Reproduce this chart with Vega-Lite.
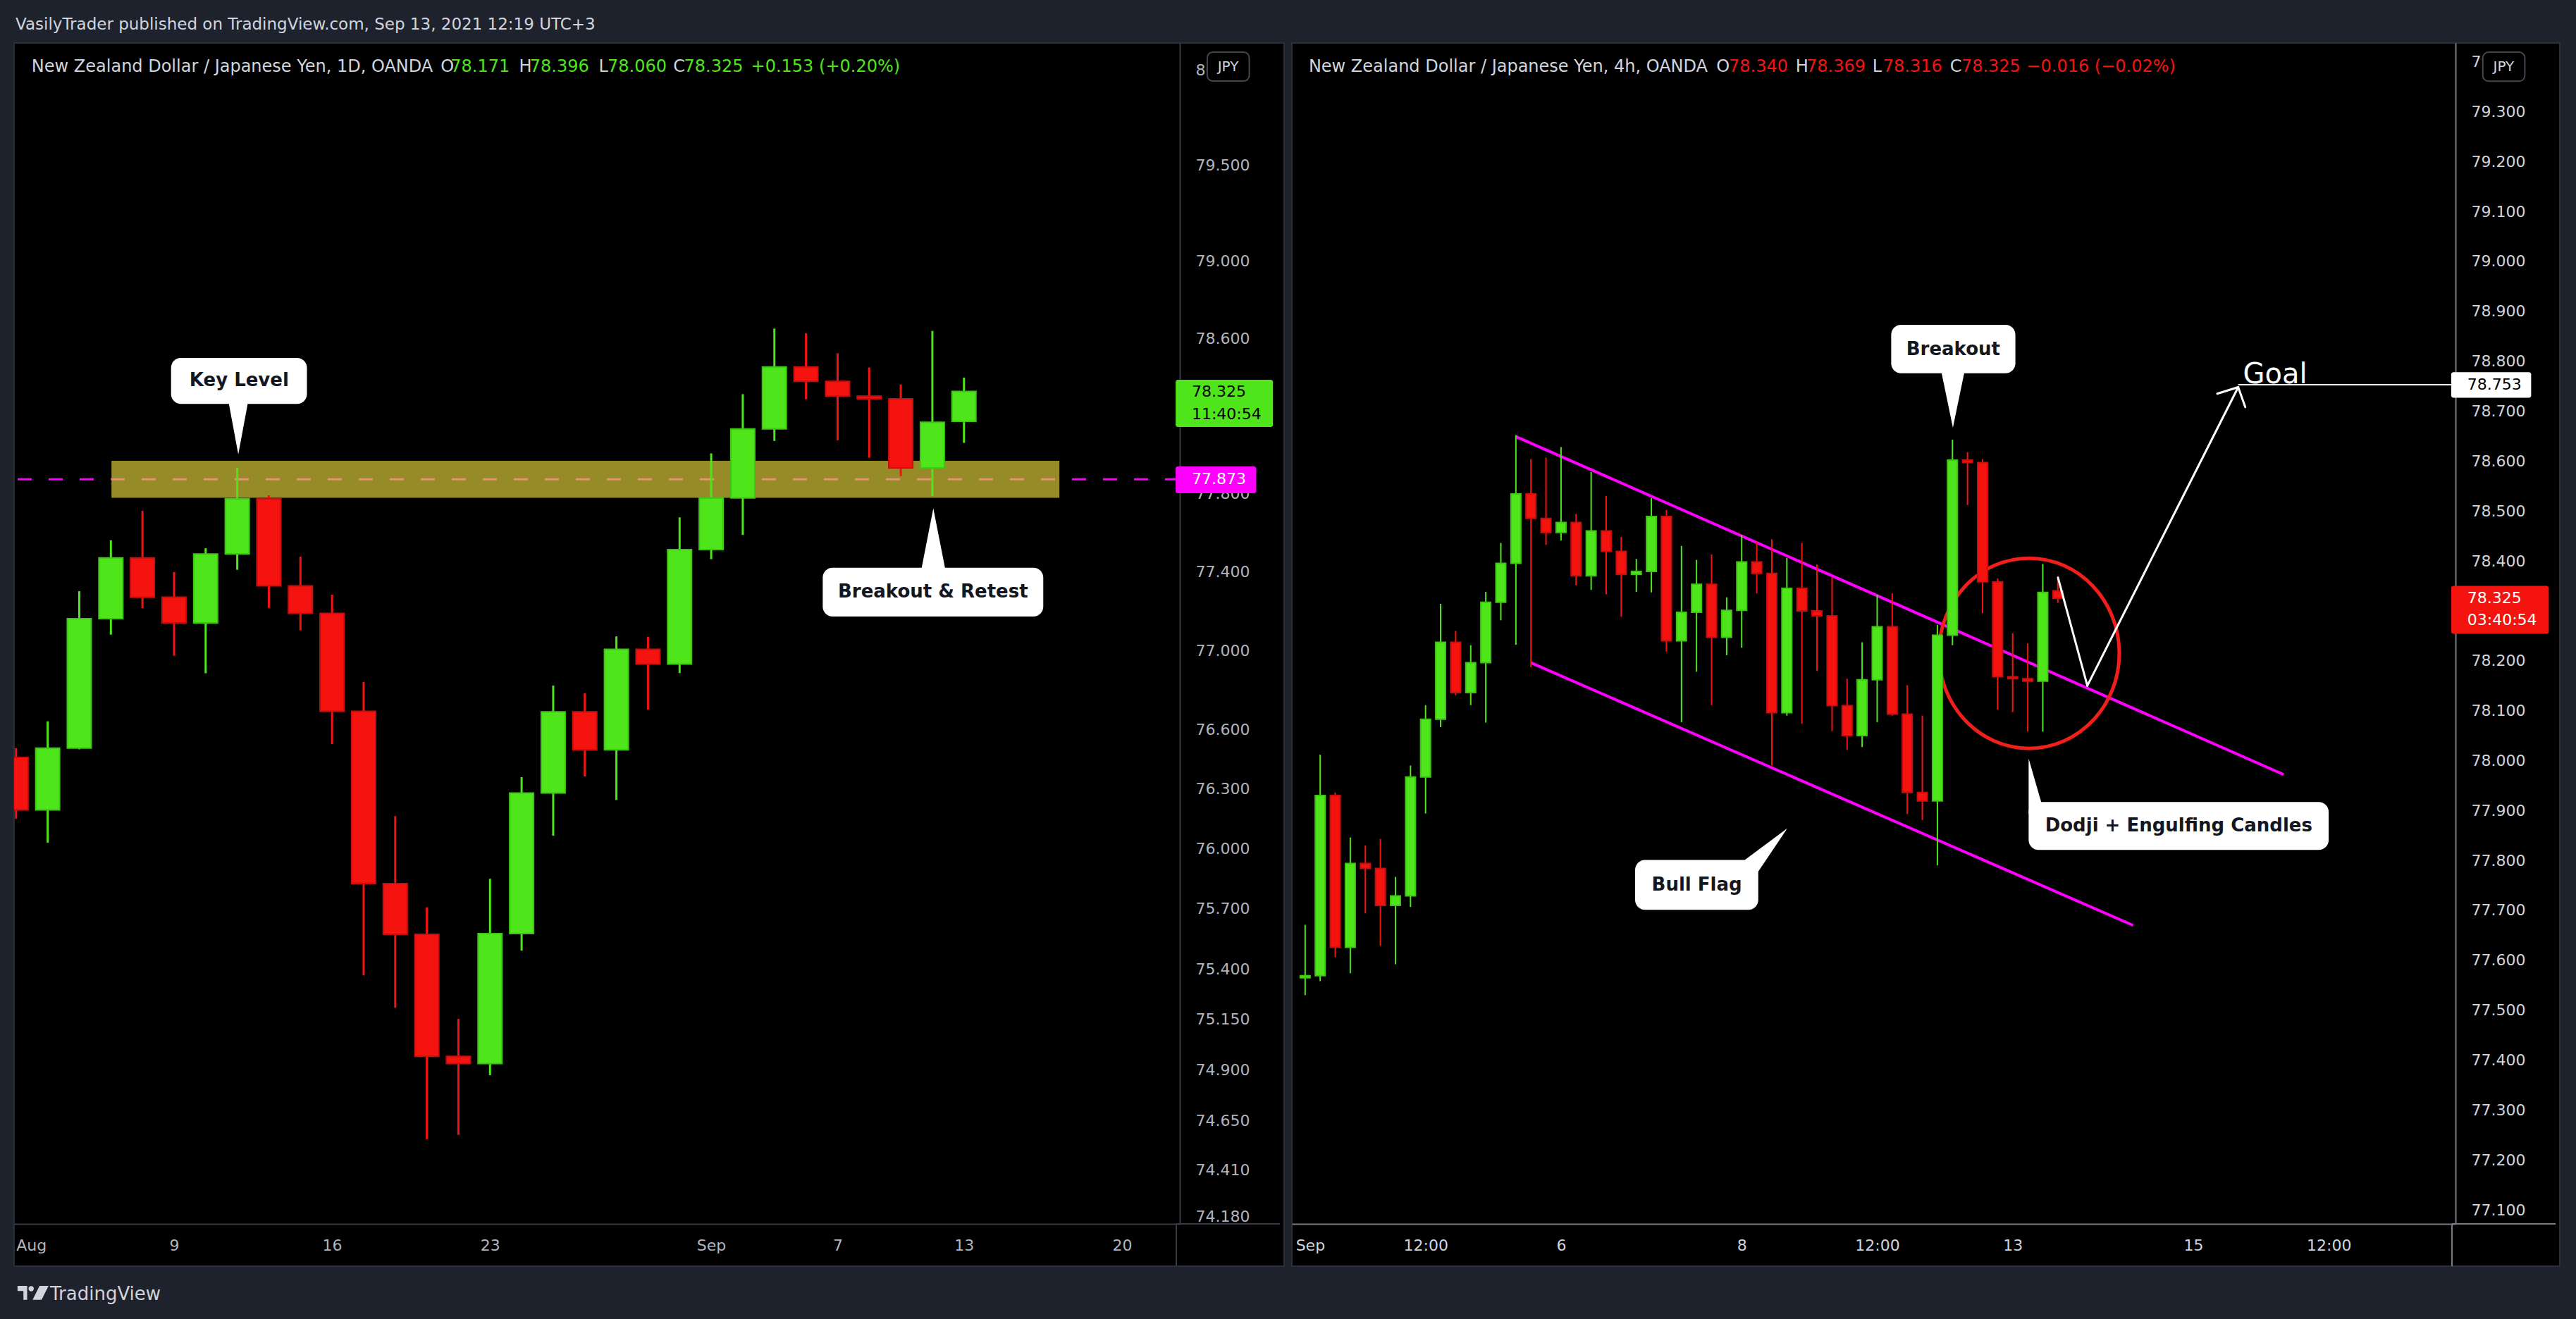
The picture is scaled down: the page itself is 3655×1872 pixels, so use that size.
{
"$schema": "https://vega.github.io/schema/vega-lite/v6.json",
"background": "#1e222d",
"padding": {"left": 19, "top": 24, "right": 22, "bottom": 24},
"autosize": {"type": "pad"},
"title": {"text": "VasilyTrader published on TradingView.com, Sep 13, 2021 12:19 UTC+3", "anchor": "start", "frame": "group", "font": "DejaVu Sans", "fontSize": 23, "fontWeight": "normal", "color": "#d1d4dc", "offset": 13, "dx": 2},
"spacing": 11,
"bounds": "flush",
"resolve": {"scale": {"color": "independent"}},
"config": {
  "view": {"fill": "#000000", "stroke": "#2a2e39", "strokeWidth": 2},
  "axis": {"grid": false, "ticks": false, "labelFont": "DejaVu Sans", "labelFontSize": 22, "labelOverlap": false, "labelBound": false},
  "text": {"font": "DejaVu Sans"},
  "title": {"font": "DejaVu Sans"}
},
"datasets": {
  "daily": [
    {"j":0,"t":"2021-08-02","o":76.459,"h":76.505,"l":76.151,"c":76.195},
    {"j":1,"t":"2021-08-03","o":76.195,"h":76.641,"l":76.031,"c":76.506},
    {"j":2,"t":"2021-08-04","o":76.506,"h":77.301,"l":76.500,"c":77.161},
    {"j":3,"t":"2021-08-05","o":77.161,"h":77.561,"l":77.080,"c":77.471},
    {"j":4,"t":"2021-08-06","o":77.471,"h":77.711,"l":77.214,"c":77.270},
    {"j":5,"t":"2021-08-09","o":77.271,"h":77.398,"l":76.973,"c":77.139},
    {"j":6,"t":"2021-08-10","o":77.139,"h":77.520,"l":76.884,"c":77.491},
    {"j":7,"t":"2021-08-11","o":77.491,"h":77.931,"l":77.410,"c":77.774},
    {"j":8,"t":"2021-08-12","o":77.774,"h":77.791,"l":77.216,"c":77.328},
    {"j":9,"t":"2021-08-13","o":77.328,"h":77.477,"l":77.102,"c":77.188},
    {"j":10,"t":"2021-08-16","o":77.188,"h":77.283,"l":76.526,"c":76.692},
    {"j":11,"t":"2021-08-17","o":76.692,"h":76.840,"l":75.369,"c":75.826},
    {"j":12,"t":"2021-08-18","o":75.826,"h":76.164,"l":75.208,"c":75.573},
    {"j":13,"t":"2021-08-19","o":75.573,"h":75.707,"l":74.560,"c":74.968},
    {"j":14,"t":"2021-08-20","o":74.968,"h":75.153,"l":74.581,"c":74.932},
    {"j":15,"t":"2021-08-23","o":74.932,"h":75.850,"l":74.875,"c":75.577},
    {"j":16,"t":"2021-08-24","o":75.577,"h":76.360,"l":75.492,"c":76.280},
    {"j":17,"t":"2021-08-25","o":76.280,"h":76.822,"l":76.066,"c":76.689},
    {"j":18,"t":"2021-08-26","o":76.689,"h":76.783,"l":76.363,"c":76.497},
    {"j":19,"t":"2021-08-27","o":76.497,"h":77.071,"l":76.245,"c":77.006},
    {"j":20,"t":"2021-08-30","o":77.006,"h":77.069,"l":76.701,"c":76.931},
    {"j":21,"t":"2021-08-31","o":76.931,"h":77.678,"l":76.885,"c":77.513},
    {"j":22,"t":"2021-09-01","o":77.513,"h":78.006,"l":77.464,"c":77.777},
    {"j":23,"t":"2021-09-02","o":77.777,"h":78.311,"l":77.588,"c":78.132},
    {"j":24,"t":"2021-09-03","o":78.132,"h":78.650,"l":78.070,"c":78.452},
    {"j":25,"t":"2021-09-06","o":78.452,"h":78.626,"l":78.285,"c":78.377},
    {"j":26,"t":"2021-09-07","o":78.377,"h":78.522,"l":78.073,"c":78.301},
    {"j":27,"t":"2021-09-08","o":78.301,"h":78.449,"l":77.984,"c":78.287},
    {"j":28,"t":"2021-09-09","o":78.287,"h":78.361,"l":77.889,"c":77.931},
    {"j":29,"t":"2021-09-10","o":77.931,"h":78.638,"l":77.787,"c":78.166},
    {"j":30,"t":"2021-09-13","o":78.171,"h":78.396,"l":78.060,"c":78.325}
  ],
  "h4": [
    {"i":1,"t":"2021-09-01 04:00","o":77.565,"h":77.671,"l":77.530,"c":77.569},
    {"i":2,"t":"2021-09-01 08:00","o":77.569,"h":78.012,"l":77.558,"c":77.930},
    {"i":3,"t":"2021-09-01 12:00","o":77.930,"h":77.936,"l":77.606,"c":77.626},
    {"i":4,"t":"2021-09-01 16:00","o":77.626,"h":77.846,"l":77.574,"c":77.794},
    {"i":5,"t":"2021-09-01 20:00","o":77.794,"h":77.830,"l":77.694,"c":77.784},
    {"i":6,"t":"2021-09-02 00:00","o":77.784,"h":77.843,"l":77.629,"c":77.710},
    {"i":7,"t":"2021-09-02 04:00","o":77.710,"h":77.767,"l":77.592,"c":77.729},
    {"i":8,"t":"2021-09-02 08:00","o":77.729,"h":77.990,"l":77.707,"c":77.967},
    {"i":9,"t":"2021-09-02 12:00","o":77.967,"h":78.111,"l":77.894,"c":78.083},
    {"i":10,"t":"2021-09-02 16:00","o":78.083,"h":78.314,"l":78.067,"c":78.237},
    {"i":11,"t":"2021-09-02 20:00","o":78.237,"h":78.260,"l":78.131,"c":78.136},
    {"i":12,"t":"2021-09-03 00:00","o":78.136,"h":78.231,"l":78.111,"c":78.196},
    {"i":13,"t":"2021-09-03 04:00","o":78.196,"h":78.338,"l":78.076,"c":78.317},
    {"i":14,"t":"2021-09-03 08:00","o":78.317,"h":78.436,"l":78.281,"c":78.395},
    {"i":15,"t":"2021-09-03 12:00","o":78.395,"h":78.652,"l":78.232,"c":78.534},
    {"i":16,"t":"2021-09-03 16:00","o":78.534,"h":78.604,"l":78.187,"c":78.485},
    {"i":17,"t":"2021-09-03 20:00","o":78.485,"h":78.607,"l":78.432,"c":78.457},
    {"i":18,"t":"2021-09-06 00:00","o":78.457,"h":78.628,"l":78.441,"c":78.477},
    {"i":19,"t":"2021-09-06 04:00","o":78.477,"h":78.494,"l":78.351,"c":78.370},
    {"i":20,"t":"2021-09-06 08:00","o":78.370,"h":78.578,"l":78.342,"c":78.460},
    {"i":21,"t":"2021-09-06 12:00","o":78.460,"h":78.530,"l":78.333,"c":78.419},
    {"i":22,"t":"2021-09-06 16:00","o":78.419,"h":78.448,"l":78.288,"c":78.373},
    {"i":23,"t":"2021-09-06 20:00","o":78.373,"h":78.404,"l":78.338,"c":78.379},
    {"i":24,"t":"2021-09-07 00:00","o":78.379,"h":78.526,"l":78.337,"c":78.489},
    {"i":25,"t":"2021-09-07 04:00","o":78.489,"h":78.502,"l":78.218,"c":78.240},
    {"i":26,"t":"2021-09-07 08:00","o":78.240,"h":78.430,"l":78.077,"c":78.297},
    {"i":27,"t":"2021-09-07 12:00","o":78.297,"h":78.402,"l":78.178,"c":78.353},
    {"i":28,"t":"2021-09-07 16:00","o":78.353,"h":78.413,"l":78.111,"c":78.247},
    {"i":29,"t":"2021-09-07 20:00","o":78.247,"h":78.327,"l":78.211,"c":78.301},
    {"i":30,"t":"2021-09-08 00:00","o":78.301,"h":78.452,"l":78.226,"c":78.398},
    {"i":31,"t":"2021-09-08 04:00","o":78.398,"h":78.439,"l":78.335,"c":78.375},
    {"i":32,"t":"2021-09-08 08:00","o":78.375,"h":78.443,"l":77.990,"c":78.096},
    {"i":33,"t":"2021-09-08 12:00","o":78.096,"h":78.406,"l":78.090,"c":78.345},
    {"i":34,"t":"2021-09-08 16:00","o":78.345,"h":78.436,"l":78.074,"c":78.300},
    {"i":35,"t":"2021-09-08 20:00","o":78.300,"h":78.393,"l":78.180,"c":78.290},
    {"i":36,"t":"2021-09-09 00:00","o":78.290,"h":78.367,"l":78.059,"c":78.110},
    {"i":37,"t":"2021-09-09 04:00","o":78.110,"h":78.164,"l":78.022,"c":78.050},
    {"i":38,"t":"2021-09-09 08:00","o":78.050,"h":78.237,"l":78.027,"c":78.162},
    {"i":39,"t":"2021-09-09 12:00","o":78.162,"h":78.332,"l":78.077,"c":78.268},
    {"i":40,"t":"2021-09-09 16:00","o":78.268,"h":78.335,"l":78.090,"c":78.093},
    {"i":41,"t":"2021-09-09 20:00","o":78.093,"h":78.151,"l":77.893,"c":77.936},
    {"i":42,"t":"2021-09-10 00:00","o":77.936,"h":78.090,"l":77.881,"c":77.919},
    {"i":43,"t":"2021-09-10 04:00","o":77.919,"h":78.272,"l":77.790,"c":78.251},
    {"i":44,"t":"2021-09-10 08:00","o":78.251,"h":78.643,"l":78.231,"c":78.602},
    {"i":45,"t":"2021-09-10 12:00","o":78.602,"h":78.618,"l":78.512,"c":78.597},
    {"i":46,"t":"2021-09-10 16:00","o":78.597,"h":78.604,"l":78.295,"c":78.358},
    {"i":47,"t":"2021-09-10 20:00","o":78.358,"h":78.365,"l":78.102,"c":78.168},
    {"i":48,"t":"2021-09-13 00:00","o":78.168,"h":78.255,"l":78.097,"c":78.164},
    {"i":49,"t":"2021-09-13 04:00","o":78.164,"h":78.235,"l":78.058,"c":78.159},
    {"i":50,"t":"2021-09-13 08:00","o":78.159,"h":78.394,"l":78.058,"c":78.337},
    {"i":51,"t":"2021-09-13 12:00","o":78.340,"h":78.369,"l":78.316,"c":78.325}
  ],
  "legendL": [
    {"s":"New Zealand Dollar / Japanese Yen, 1D, OANDA","k":0.492,"kind":"label"},
    {"s":"O","k":13.44,"kind":"label"},{"s":"78.171","k":13.75,"kind":"value"},
    {"s":"H","k":15.92,"kind":"label"},{"s":"78.396","k":16.26,"kind":"value"},
    {"s":"L","k":18.44,"kind":"label"},{"s":"78.060","k":18.72,"kind":"value"},
    {"s":"C","k":20.80,"kind":"label"},{"s":"78.325","k":21.14,"kind":"value"},
    {"s":"+0.153 (+0.20%)","k":23.26,"kind":"value"}
  ],
  "legendR": [
    {"s":"New Zealand Dollar / Japanese Yen, 4h, OANDA","k":1.238,"kind":"label"},
    {"s":"O","k":28.32,"kind":"label"},{"s":"78.340","k":29.15,"kind":"value"},
    {"s":"H","k":33.58,"kind":"label"},{"s":"78.369","k":34.30,"kind":"value"},
    {"s":"L","k":38.68,"kind":"label"},{"s":"78.316","k":39.39,"kind":"value"},
    {"s":"C","k":43.83,"kind":"label"},{"s":"78.325","k":44.59,"kind":"value"},
    {"s":"−0.016 (−0.02%)","k":48.92,"kind":"value"}
  ],
  "calloutsL": [
    {"s":"Key Level","j1":4.905,"j2":9.206,"p1":78.261,"p2":78.498,"jt":7.06,"pt":78.38},
    {"s":"Breakout & Retest","j1":25.53,"j2":32.51,"p1":77.172,"p2":77.421,"jt":29.02,"pt":77.296}
  ],
  "calloutsR": [
    {"s":"Breakout","i1":39.93,"i2":48.18,"p1":78.776,"p2":78.873,"it":44.05,"pt":78.824},
    {"s":"Dodji + Engulfing Candles","i1":49.06,"i2":68.99,"p1":77.821,"p2":77.917,"it":59.03,"pt":77.869},
    {"s":"Bull Flag","i1":22.92,"i2":31.10,"p1":77.701,"p2":77.801,"it":27.02,"pt":77.751}
  ]
},
"hconcat": [
{
  "width": 1802, "height": 1736,
  "title": {"text": "TradingView", "orient": "bottom", "anchor": "start", "frame": "group", "fontSize": 26, "fontWeight": "normal", "color": "#d1d4dc", "offset": -21, "dx": 51},
  "layer": [
    {"data": {"values": [{"level": 77.873, "j1": 0.0488, "j2": 36.72}]},
     "mark": {"type": "rule", "color": "#ff00ff", "strokeWidth": 3, "strokeDash": [20, 24]},
     "encoding": {
       "x": {"field": "j1", "type": "quantitative", "title": null,
         "scale": {"domain": [0.0488, 36.72], "range": [0, 1654], "nice": false, "zero": false},
         "axis": {"orient": "bottom", "offset": -60, "title": null, "values": [0,5,10,15,22,26,30,35],
           "labelExpr": "datum.value == 0 ? 'Aug' : datum.value == 5 ? '9' : datum.value == 10 ? '16' : datum.value == 15 ? '23' : datum.value == 22 ? 'Sep' : datum.value == 26 ? '7' : datum.value == 30 ? '13' : '20'",
           "labelAlign": {"condition": {"test": "datum.value == 0", "value": "left"}, "value": "center"},
           "labelPadding": 30, "labelBaseline": "middle", "labelColor": "#b2b5be", "domain": true, "domainColor": "#363a45", "domainWidth": 2, "zindex": 1}},
       "x2": {"field": "j2"},
       "y": {"field": "level", "type": "quantitative", "title": null,
         "scale": {"type": "log", "domain": [74.145, 80.144], "range": [1676, 0], "nice": false, "zero": false},
         "axis": {"orient": "right", "offset": -148, "title": null, "values": [74.18,74.41,74.65,74.9,75.15,75.4,75.7,76,76.3,76.6,77,77.4,77.8,78.6,79,79.5,80],
           "format": ".3f", "labelPadding": 22, "labelAlign": "left", "labelColor": "#b2b5be", "domain": true, "domainColor": "#363a45", "domainWidth": 2, "zindex": 0}}
     }},
    {"data": {"values": [{"j1": 36.72, "j2": 36.72, "p1": 74.145, "p2": 73.939}, {"j1": 36.72, "j2": 40.0, "p1": 74.145, "p2": 74.145}]},
     "mark": {"type": "rule", "color": "#363a45", "strokeWidth": 2},
     "encoding": {
       "x": {"field": "j1", "type": "quantitative"}, "x2": {"field": "j2"},
       "y": {"field": "p1", "type": "quantitative"}, "y2": {"field": "p2"}
     }},
    {"data": {"values": [{"j": 0.537, "p": 73.809}]},
     "mark": {"type": "point", "shape": "M -1 -0.45 L -0.38 -0.45 L -0.38 0.45 L -0.62 0.45 L -0.62 -0.12 L -1 -0.12 Z M -0.29 -0.27 A 0.17 0.17 0 1 1 0.05 -0.27 A 0.17 0.17 0 1 1 -0.29 -0.27 Z M 0.42 -0.45 L 1 -0.45 L 0.55 0.45 L -0.03 0.45 Z", "size": 1936, "filled": true, "color": "#d1d4dc", "opacity": 1},
     "encoding": {"x": {"field": "j", "type": "quantitative"}, "y": {"field": "p", "type": "quantitative"}}},
    {"data": {"values": [{"j1": 3.02, "j2": 33.02, "p1": 77.778, "p2": 77.968}]},
     "mark": {"type": "rect", "color": "#e8d53c", "opacity": 0.65},
     "encoding": {
       "x": {"field": "j1", "type": "quantitative"}, "x2": {"field": "j2"},
       "y": {"field": "p1", "type": "quantitative"}, "y2": {"field": "p2"}
     }},
    {"data": {"name": "daily"},
     "mark": {"type": "rule", "strokeWidth": 3, "clip": true},
     "encoding": {
       "x": {"field": "j", "type": "quantitative"},
       "y": {"field": "l", "type": "quantitative"}, "y2": {"field": "h"},
       "color": {"condition": {"test": "datum.c >= datum.o", "value": "#4ee61a"}, "value": "#f5130f"}
     }},
    {"data": {"name": "daily"},
     "mark": {"type": "bar", "size": 34, "strokeWidth": 2, "clip": true},
     "encoding": {
       "x": {"field": "j", "type": "quantitative"},
       "y": {"field": "o", "type": "quantitative"}, "y2": {"field": "c"},
       "color": {"condition": {"test": "datum.c >= datum.o", "value": "#4ee61a"}, "value": "#f5130f"},
       "stroke": {"condition": {"test": "datum.c >= datum.o", "value": "#3ec515"}, "value": "#c80f0f"}
     }},
    {"data": {"name": "calloutsL"},
     "mark": {"type": "rect", "color": "#ffffff", "cornerRadius": 14},
     "encoding": {
       "x": {"field": "j1", "type": "quantitative"}, "x2": {"field": "j2"},
       "y": {"field": "p1", "type": "quantitative"}, "y2": {"field": "p2"}
     }},
    {"data": {"values": [{"j": 7.033, "p": 78.131}]},
     "mark": {"type": "point", "shape": "M -0.389 -1.1 L 0.389 -1.1 L 0 1 Z", "size": 5184, "filled": true, "color": "#ffffff", "opacity": 1},
     "encoding": {"x": {"field": "j", "type": "quantitative"}, "y": {"field": "p", "type": "quantitative"}}},
    {"data": {"values": [{"j": 29.03, "p": 77.572}]},
     "mark": {"type": "point", "shape": "M 0 -1 L 0.412 1.1 L -0.412 1.1 Z", "size": 7107, "filled": true, "color": "#ffffff", "opacity": 1},
     "encoding": {"x": {"field": "j", "type": "quantitative"}, "y": {"field": "p", "type": "quantitative"}}},
    {"data": {"name": "calloutsL"},
     "mark": {"type": "text", "fontSize": 26, "fontWeight": "bold", "color": "#131722", "align": "center", "baseline": "middle"},
     "encoding": {
       "x": {"field": "jt", "type": "quantitative"},
       "y": {"field": "pt", "type": "quantitative"},
       "text": {"field": "s"}
     }},
    {"data": {"values": [{"j1": 36.70, "j2": 39.78, "p1": 78.142, "p2": 78.385}]},
     "mark": {"type": "rect", "color": "#4ee61a", "cornerRadius": 3},
     "encoding": {"x": {"field": "j1", "type": "quantitative"}, "x2": {"field": "j2"}, "y": {"field": "p1", "type": "quantitative"}, "y2": {"field": "p2"}}},
    {"data": {"values": [{"j1": 36.70, "j2": 39.25, "p1": 77.802, "p2": 77.939}]},
     "mark": {"type": "rect", "color": "#ff00ff", "cornerRadius": 3},
     "encoding": {"x": {"field": "j1", "type": "quantitative"}, "x2": {"field": "j2"}, "y": {"field": "p1", "type": "quantitative"}, "y2": {"field": "p2"}}},
    {"data": {"values": [{"j1": 37.70, "j2": 39.03, "p1": 79.943, "p2": 80.096}]},
     "mark": {"type": "rect", "fill": "#000000", "stroke": "#434651", "strokeWidth": 2, "cornerRadius": 8},
     "encoding": {"x": {"field": "j1", "type": "quantitative"}, "x2": {"field": "j2"}, "y": {"field": "p1", "type": "quantitative"}, "y2": {"field": "p2"}}},
    {"data": {"values": [{"s": "78.325", "j": 37.21, "p": 78.325}, {"s": "11:40:54", "j": 37.21, "p": 78.207}]},
     "mark": {"type": "text", "fontSize": 22, "color": "#000000", "align": "left", "baseline": "middle"},
     "encoding": {"x": {"field": "j", "type": "quantitative"}, "y": {"field": "p", "type": "quantitative"}, "text": {"field": "s"}}},
    {"data": {"values": [{"s": "77.873", "j": 37.21, "p": 77.873}]},
     "mark": {"type": "text", "fontSize": 22, "color": "#ffffff", "align": "left", "baseline": "middle"},
     "encoding": {"x": {"field": "j", "type": "quantitative"}, "y": {"field": "p", "type": "quantitative"}, "text": {"field": "s"}}},
    {"data": {"values": [{"s": "JPY", "j": 38.36, "p": 80.019}]},
     "mark": {"type": "text", "fontSize": 20, "color": "#d1d4dc", "align": "center", "baseline": "middle"},
     "encoding": {"x": {"field": "j", "type": "quantitative"}, "y": {"field": "p", "type": "quantitative"}, "text": {"field": "s"}}},
    {"data": {"name": "legendL"},
     "mark": {"type": "text", "fontSize": 24, "align": "left", "baseline": "middle"},
     "encoding": {
       "x": {"field": "k", "type": "quantitative"},
       "y": {"datum": 80.018, "type": "quantitative"},
       "text": {"field": "s"},
       "color": {"field": "kind", "type": "nominal", "scale": {"domain": ["label", "value"], "range": ["#d1d4dc", "#4ee61a"]}, "legend": null}
     }}
  ]
},
{
  "width": 1799, "height": 1736,
  "layer": [
    {"data": {"values": [{"i1": 15, "p1": 78.649, "i2": 66, "p2": 77.972}, {"i1": 16, "p1": 78.196, "i2": 56, "p2": 77.670}]},
     "mark": {"type": "rule", "color": "#ff00ff", "strokeWidth": 4},
     "encoding": {
       "x": {"field": "i1", "type": "quantitative", "title": null,
         "scale": {"domain": [0.354, 77.18], "range": [0, 1651], "nice": false, "zero": false},
         "axis": {"orient": "bottom", "offset": -60, "title": null, "values": [0.36,9,18,30,39,48,60,69],
           "labelExpr": "datum.value < 1 ? 'Sep' : datum.value == 18 ? '6' : datum.value == 30 ? '8' : datum.value == 48 ? '13' : datum.value == 60 ? '15' : '12:00'",
           "labelAlign": {"condition": {"test": "datum.value < 1", "value": "left"}, "value": "center"},
           "labelPadding": 30, "labelBaseline": "middle", "labelColor": "#d1d4dc", "domain": true, "domainColor": "#787b86", "domainWidth": 2, "zindex": 1}},
       "x2": {"field": "i2"},
       "y": {"field": "p1", "type": "quantitative", "title": null,
         "scale": {"domain": [77.0719, 79.4375], "range": [1676, 0], "nice": false, "zero": false},
         "axis": {"orient": "right", "offset": -148, "title": null, "values": [77.1,77.2,77.3,77.4,77.5,77.6,77.7,77.8,77.9,78,78.1,78.2,78.4,78.5,78.6,78.7,78.8,78.9,79,79.1,79.2,79.3,79.4],
           "format": ".3f", "labelPadding": 22, "labelAlign": "left", "labelColor": "#d1d4dc", "domain": true, "domainColor": "#787b86", "domainWidth": 2, "zindex": 0}},
       "y2": {"field": "p2"}
     }},
    {"data": {"values": [{"i1": 77.18, "i2": 77.18, "p1": 77.0719, "p2": 76.987}, {"i1": 77.18, "i2": 84.07, "p1": 77.0719, "p2": 77.0719}]},
     "mark": {"type": "rule", "color": "#787b86", "strokeWidth": 2},
     "encoding": {
       "x": {"field": "i1", "type": "quantitative"}, "x2": {"field": "i2"},
       "y": {"field": "p1", "type": "quantitative"}, "y2": {"field": "p2"}
     }},
    {"data": {"values": [{"i": 49.09, "p": 78.215}]},
     "mark": {"type": "point", "shape": "M -0.948 0 A 0.948 1 0 1 1 0.948 0 A 0.948 1 0 1 1 -0.948 0 Z", "size": 72900, "filled": false, "color": "#f01f1a", "strokeWidth": 5, "opacity": 1},
     "encoding": {"x": {"field": "i", "type": "quantitative"}, "y": {"field": "p", "type": "quantitative"}}},
    {"data": {"name": "h4"},
     "mark": {"type": "rule", "strokeWidth": 2, "clip": true},
     "encoding": {
       "x": {"field": "i", "type": "quantitative"},
       "y": {"field": "l", "type": "quantitative"}, "y2": {"field": "h"},
       "color": {"condition": {"test": "datum.c >= datum.o", "value": "#4ee61a"}, "value": "#f5130f"}
     }},
    {"data": {"name": "h4"},
     "mark": {"type": "bar", "size": 14, "strokeWidth": 2, "clip": true},
     "encoding": {
       "x": {"field": "i", "type": "quantitative"},
       "y": {"field": "o", "type": "quantitative"}, "y2": {"field": "c"},
       "color": {"condition": {"test": "datum.c >= datum.o", "value": "#4ee61a"}, "value": "#f5130f"},
       "stroke": {"condition": {"test": "datum.c >= datum.o", "value": "#3ec515"}, "value": "#c80f0f"}
     }},
    {"data": {"values": [
       {"i1": 51.01, "p1": 78.3665, "i2": 52.96, "p2": 78.150},
       {"i1": 52.96, "p1": 78.150, "i2": 62.98, "p2": 78.748},
       {"i1": 62.98, "p1": 78.748, "i2": 61.59, "p2": 78.735},
       {"i1": 62.98, "p1": 78.748, "i2": 63.45, "p2": 78.708}]},
     "mark": {"type": "rule", "color": "#ffffff", "strokeWidth": 3, "strokeCap": "round"},
     "encoding": {
       "x": {"field": "i1", "type": "quantitative"}, "x2": {"field": "i2"},
       "y": {"field": "p1", "type": "quantitative"}, "y2": {"field": "p2"}
     }},
    {"data": {"values": [{"i1": 62.98, "i2": 77.13, "p": 78.753}]},
     "mark": {"type": "rule", "color": "#ffffff", "strokeWidth": 2},
     "encoding": {
       "x": {"field": "i1", "type": "quantitative"}, "x2": {"field": "i2"},
       "y": {"field": "p", "type": "quantitative"}
     }},
    {"data": {"values": [{"s": "Goal", "i": 63.3, "p": 78.756}]},
     "mark": {"type": "text", "fontSize": 40, "color": "#ffffff", "align": "left", "baseline": "alphabetic"},
     "encoding": {"x": {"field": "i", "type": "quantitative"}, "y": {"field": "p", "type": "quantitative"}, "text": {"field": "s"}}},
    {"data": {"name": "calloutsR"},
     "mark": {"type": "rect", "color": "#ffffff", "cornerRadius": 14},
     "encoding": {
       "x": {"field": "i1", "type": "quantitative"}, "x2": {"field": "i2"},
       "y": {"field": "p1", "type": "quantitative"}, "y2": {"field": "p2"}
     }},
    {"data": {"values": [{"i": 44.03, "p": 78.721}]},
     "mark": {"type": "point", "shape": "M -0.434 -1.1 L 0.434 -1.1 L 0 1 Z", "size": 5914, "filled": true, "color": "#ffffff", "opacity": 1},
     "encoding": {"x": {"field": "i", "type": "quantitative"}, "y": {"field": "p", "type": "quantitative"}}},
    {"data": {"values": [{"i": 49.06, "p": 77.9605}]},
     "mark": {"type": "point", "shape": "M 0 -0.969 L 0.559 0.969 L 0.559 1.469 L 0 1.469 Z", "size": 4096, "filled": true, "color": "#ffffff", "opacity": 1},
     "encoding": {"x": {"field": "i", "type": "quantitative"}, "y": {"field": "p", "type": "quantitative"}}},
    {"data": {"values": [{"i": 31.62, "p": 77.821}]},
     "mark": {"type": "point", "shape": "M 0.974 -0.994 L -0.974 0.461 L -0.974 0.994 L -0.358 0.994 Z", "size": 3844, "filled": true, "color": "#ffffff", "opacity": 1},
     "encoding": {"x": {"field": "i", "type": "quantitative"}, "y": {"field": "p", "type": "quantitative"}}},
    {"data": {"name": "calloutsR"},
     "mark": {"type": "text", "fontSize": 26, "fontWeight": "bold", "color": "#131722", "align": "center", "baseline": "middle"},
     "encoding": {
       "x": {"field": "it", "type": "quantitative"},
       "y": {"field": "pt", "type": "quantitative"},
       "text": {"field": "s"}
     }},
    {"data": {"values": [{"i1": 77.13, "i2": 82.44, "p1": 78.727, "p2": 78.778}]},
     "mark": {"type": "rect", "color": "#ffffff", "cornerRadius": 3},
     "encoding": {"x": {"field": "i1", "type": "quantitative"}, "x2": {"field": "i2"}, "y": {"field": "p1", "type": "quantitative"}, "y2": {"field": "p2"}}},
    {"data": {"values": [{"i1": 77.13, "i2": 83.61, "p1": 78.254, "p2": 78.350}]},
     "mark": {"type": "rect", "color": "#f5130f", "cornerRadius": 3},
     "encoding": {"x": {"field": "i1", "type": "quantitative"}, "x2": {"field": "i2"}, "y": {"field": "p1", "type": "quantitative"}, "y2": {"field": "p2"}}},
    {"data": {"values": [{"i1": 79.23, "i2": 82.02, "p1": 79.361, "p2": 79.419}]},
     "mark": {"type": "rect", "fill": "#000000", "stroke": "#434651", "strokeWidth": 2, "cornerRadius": 8},
     "encoding": {"x": {"field": "i1", "type": "quantitative"}, "x2": {"field": "i2"}, "y": {"field": "p1", "type": "quantitative"}, "y2": {"field": "p2"}}},
    {"data": {"values": [{"s": "78.753", "i": 78.2, "p": 78.753}]},
     "mark": {"type": "text", "fontSize": 22, "color": "#000000", "align": "left", "baseline": "middle"},
     "encoding": {"x": {"field": "i", "type": "quantitative"}, "y": {"field": "p", "type": "quantitative"}, "text": {"field": "s"}}},
    {"data": {"values": [{"s": "78.325", "i": 78.2, "p": 78.325}, {"s": "03:40:54", "i": 78.2, "p": 78.282}]},
     "mark": {"type": "text", "fontSize": 22, "color": "#ffffff", "align": "left", "baseline": "middle"},
     "encoding": {"x": {"field": "i", "type": "quantitative"}, "y": {"field": "p", "type": "quantitative"}, "text": {"field": "s"}}},
    {"data": {"values": [{"s": "JPY", "i": 80.62, "p": 79.39}]},
     "mark": {"type": "text", "fontSize": 20, "color": "#d1d4dc", "align": "center", "baseline": "middle"},
     "encoding": {"x": {"field": "i", "type": "quantitative"}, "y": {"field": "p", "type": "quantitative"}, "text": {"field": "s"}}},
    {"data": {"name": "legendR"},
     "mark": {"type": "text", "fontSize": 24, "align": "left", "baseline": "middle"},
     "encoding": {
       "x": {"field": "k", "type": "quantitative"},
       "y": {"datum": 79.389, "type": "quantitative"},
       "text": {"field": "s"},
       "color": {"field": "kind", "type": "nominal", "scale": {"domain": ["label", "value"], "range": ["#d1d4dc", "#f5130f"]}, "legend": null}
     }}
  ]
}
]
}
